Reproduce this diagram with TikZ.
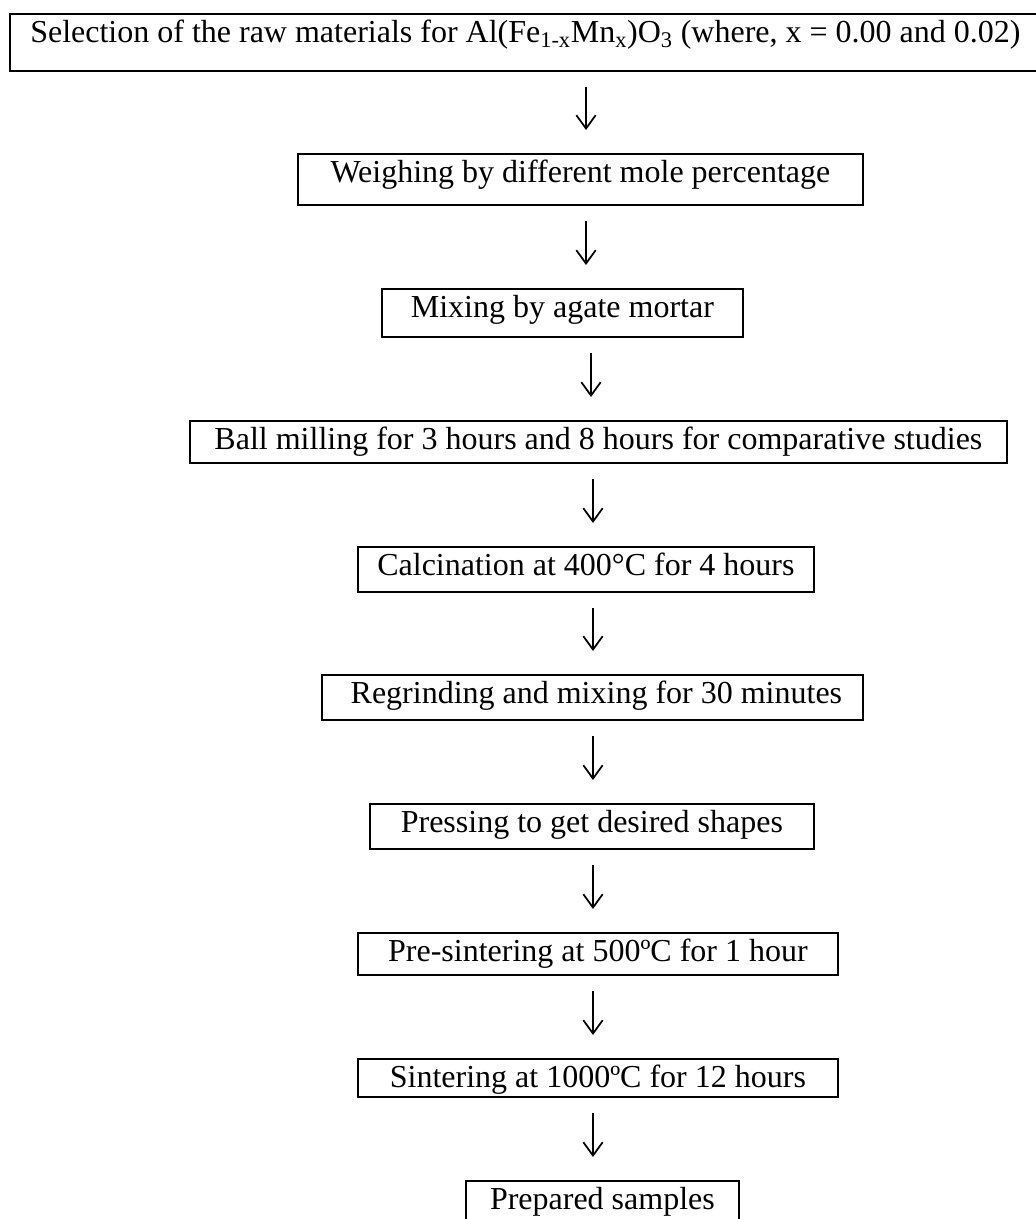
\documentclass[tikz,border=0pt]{standalone}
\usepackage{fontspec}
\setmainfont{Liberation Serif}
\usetikzlibrary{arrows.meta}

\tikzset{
  stepbox/.style={draw, line width=1.35pt, anchor=north west, inner xsep=0pt, inner ysep=0pt,
    text height=21.75pt, font=\fontsize{24}{28}\selectfont},
  flow/.style={-{Straight Barb[length=10pt,width=14.5pt]}, line width=1.3pt,
    shorten <=11.25pt, shorten >=17.25pt}
}

\begin{document}
\begin{tikzpicture}[x=0.75pt,y=0.75pt,yscale=-1,xscale=1]
\useasboundingbox (0,0) rectangle (1035,1219);

%Shape: Rectangle (steps)
\node[stepbox, minimum width=773.25pt, text depth=21pt] (sel) at (9,13)
  {Selection of the raw materials for Al(Fe\textsubscript{1-x}Mn\textsubscript{x})O\textsubscript{3} (where, x = 0.00 and 0.02)};
\node[stepbox, minimum width=423.75pt, text depth=16.5pt] (weigh) at (297,153)
  {Weighing by different mole percentage\hspace{25pt}};
\node[stepbox, minimum width=270.75pt, text depth=14.25pt] (mix) at (381,288)
  {Mixing by agate mortar};
\node[stepbox, minimum width=612.75pt, text depth=9.75pt] (mill) at (189,420)
  {Ball milling for 3 hours and 8 hours for comparative studies};
\node[stepbox, minimum width=342pt, text depth=12pt] (calc) at (357,546)
  {Calcination at 400°C for 4 hours};
\node[stepbox, minimum width=405.75pt, text depth=12pt] (regrind) at (321,674)
  {\ Regrinding and mixing for 30 minutes};
\node[stepbox, minimum width=333pt, text depth=12pt] (press) at (369,803)
  {Pressing to get desired shapes};
\node[stepbox, minimum width=360pt, text depth=9.75pt] (presint) at (357,932)
  {Pre-sintering at 500ºC for 1 hour};
\node[stepbox, minimum width=360pt, text depth=6.75pt] (sint) at (357,1058)
  {Sintering at 1000ºC for 12 hours};
\node[stepbox, minimum width=204.75pt, text depth=15.75pt] (samples) at (465,1180)
  {Prepared samples};

%Arrow columns
\coordinate (c1) at (586,0);
\coordinate (c2) at (591,0);
\coordinate (c3) at (593,0);

%Straight Lines (arrows)
\draw[flow] (c1 |- sel.south) -- (c1 |- weigh.north);
\draw[flow] (c1 |- weigh.south) -- (c1 |- mix.north);
\draw[flow] (c2 |- mix.south) -- (c2 |- mill.north);
\draw[flow] (c3 |- mill.south) -- (c3 |- calc.north);
\draw[flow] (c3 |- calc.south) -- (c3 |- regrind.north);
\draw[flow] (c3 |- regrind.south) -- (c3 |- press.north);
\draw[flow] (c3 |- press.south) -- (c3 |- presint.north);
\draw[flow] (c3 |- presint.south) -- (c3 |- sint.north);
\draw[flow] (c3 |- sint.south) -- (c3 |- samples.north);

\end{tikzpicture}
\end{document}
